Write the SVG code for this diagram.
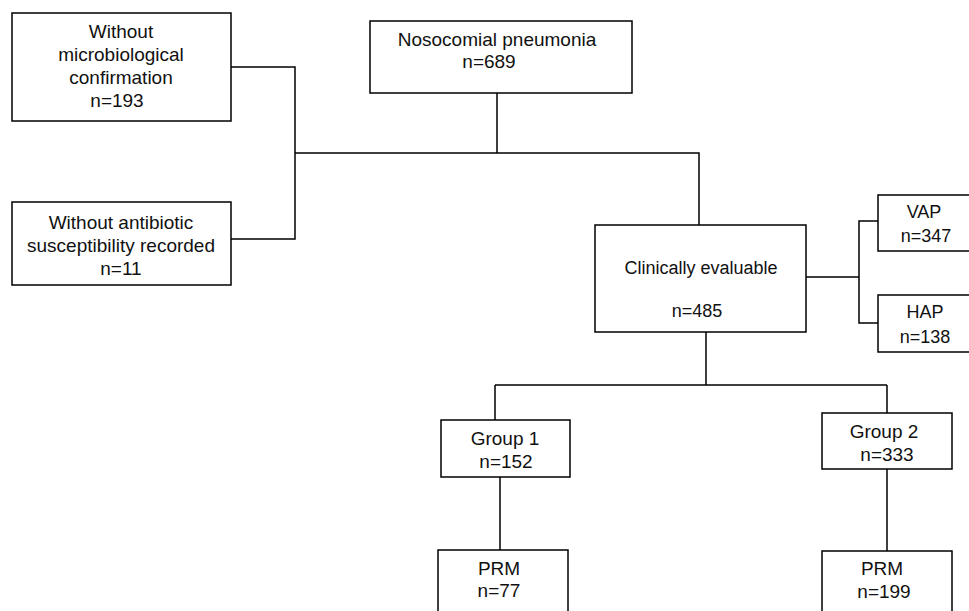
<svg xmlns="http://www.w3.org/2000/svg" width="969" height="611" viewBox="0 0 969 611">
<style>
.box{fill:#fff;stroke:#000;stroke-width:1.5}
.c{fill:none;stroke:#000;stroke-width:1.5}
text{font-family:"Liberation Sans",Arial,sans-serif;font-size:19px;fill:#111;text-anchor:middle}
.s{font-size:18px}
</style>
<rect width="969" height="611" fill="#fff"/>
<g id="connectors">
<path class="c" d="M231,67 H295 V239 H231 M295,153 H699 V225 M497,93 V153"/>
<path class="c" d="M806,277 H859 M878,221 H859 V323 H878"/>
<path class="c" d="M706,332 V385 M495,385 H887 M495,385 V420 M887,385 V413"/>
<path class="c" d="M500,477 V550 M887,469 V551"/>
</g>
<g id="n-without-micro">
<rect class="box" x="12" y="13" width="219" height="108"/>
<text x="121" y="38">Without</text>
<text x="121" y="61">microbiological</text>
<text x="121" y="84">confirmation</text>
<text x="117" y="107">n=193</text>
</g>
<g id="n-without-abx">
<rect class="box" x="12" y="202" width="219" height="83"/>
<text x="121" y="229">Without antibiotic</text>
<text x="121" y="252">susceptibility recorded</text>
<text x="121" y="275">n=11</text>
</g>
<g id="n-nosocomial">
<rect class="box" x="370" y="21" width="262" height="72"/>
<text x="497" y="46">Nosocomial pneumonia</text>
<text x="489" y="68">n=689</text>
</g>
<g id="n-clinical">
<rect class="box" x="595" y="225" width="211" height="107"/>
<text class="s" x="701" y="274">Clinically evaluable</text>
<text class="s" x="697" y="317">n=485</text>
</g>
<g id="n-vap">
<rect class="box" x="878" y="195" width="100" height="56"/>
<text class="s" x="924" y="218">VAP</text>
<text class="s" x="926" y="242">n=347</text>
</g>
<g id="n-hap">
<rect class="box" x="878" y="295" width="100" height="57"/>
<text class="s" x="925" y="318">HAP</text>
<text class="s" x="925" y="343">n=138</text>
</g>
<g id="n-group1">
<rect class="box" x="441" y="420" width="129" height="57"/>
<text x="505" y="445">Group 1</text>
<text x="506" y="468">n=152</text>
</g>
<g id="n-group2">
<rect class="box" x="822" y="413" width="130" height="56"/>
<text x="884" y="438">Group 2</text>
<text x="887" y="461">n=333</text>
</g>
<g id="n-prm1">
<rect class="box" x="438" y="550" width="130" height="80"/>
<text x="499" y="575">PRM</text>
<text x="499" y="597">n=77</text>
</g>
<g id="n-prm2">
<rect class="box" x="822" y="551" width="130" height="80"/>
<text x="882" y="575">PRM</text>
<text x="884" y="598">n=199</text>
</g>
</svg>
